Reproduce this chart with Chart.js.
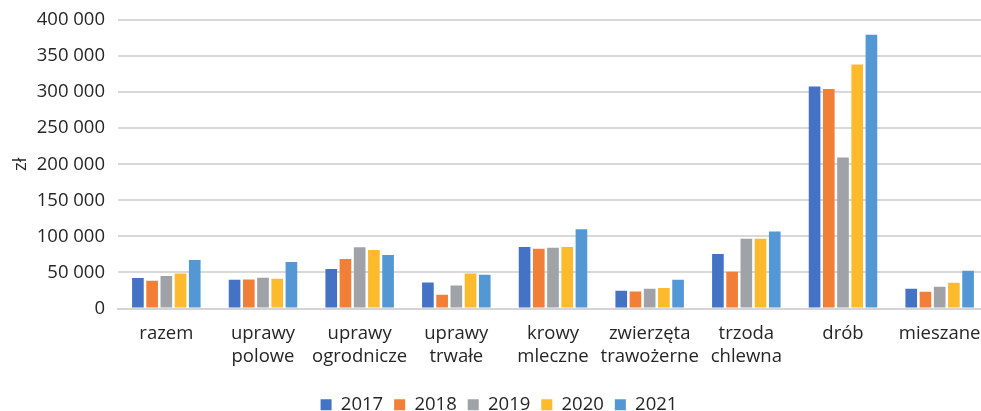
<!DOCTYPE html>
<html>
<head>
<meta charset="utf-8">
<script src="https://cdn.jsdelivr.net/npm/chart.js@4"></script>
<style>
html,body{margin:0;padding:0;background:#fff;overflow:hidden;}
#wrap{width:988px;height:411px;position:relative;}
</style>
</head>
<body>
<div id="wrap"><canvas id="c"></canvas></div>
<script>
const categories = [
  'razem',
  ['uprawy', 'polowe'],
  ['uprawy', 'ogrodnicze'],
  ['uprawy', 'trwałe'],
  ['krowy', 'mleczne'],
  ['zwierzęta', 'trawożerne'],
  ['trzoda', 'chlewna'],
  'drób',
  'mieszane'
];
const years = ['2017', '2018', '2019', '2020', '2021'];
const v2017 = [42200, 39900, 54700, 36100, 85300, 24600, 75500, 307700, 27300];
const v2018 = [38500, 40300, 68600, 19000, 83000, 23600, 51000, 304400, 23200];
const v2019 = [45000, 42600, 84800, 32000, 84300, 27300, 96800, 209500, 30100];
const v2020 = [48700, 41200, 81100, 48700, 85300, 28300, 96800, 338300, 35700];
const v2021 = [67200, 64400, 74100, 46800, 109800, 39900, 106600, 379500, 52400];
const yTicks = [0, 50000, 100000, 150000, 200000, 250000, 300000, 350000, 400000];
const colors = ['#4472C4', '#F27F38', '#9FA2A6', '#FDBA2C', '#5398D4'];
const series = [v2017, v2018, v2019, v2020, v2021];

Chart.defaults.font.family = "'Open Sans', 'Liberation Sans', sans-serif";
Chart.defaults.color = '#262626';

function fmt(n) {
  return String(n).replace(/\B(?=(\d{3})+(?!\d))/g, ' ');
}

new Chart(document.getElementById('c'), {
  type: 'bar',
  data: {
    labels: categories,
    datasets: years.map((y, i) => ({
      label: y,
      data: series[i],
      backgroundColor: colors[i],
      borderWidth: 0,
      categoryPercentage: 0.735,
      barPercentage: 0.82
    }))
  },
  options: {
    responsive: true,
    maintainAspectRatio: false,
    animation: false,
    layout: { padding: { top: 20, right: 0, left: 10, bottom: -13 } },
    plugins: {
      tooltip: { enabled: false },
      legend: {
        position: 'bottom',
        labels: {
          boxWidth: 11,
          boxHeight: 11,
          padding: 11,
          font: { size: 18.5 },
          color: '#262626'
        }
      }
    },
    scales: {
      x: {
        grid: { display: false, drawTicks: false },
        border: { display: true, color: '#D4D4D4', width: 2 },
        ticks: { font: { size: 18.5, lineHeight: 1.25 }, maxRotation: 0, autoSkip: false, padding: 14, color: '#262626' },
        afterFit: (axis) => { axis.height = 76; axis.paddingLeft = 0; axis.paddingRight = 0; }
      },
      y: {
        min: 0,
        max: 400000,
        afterBuildTicks: (axis) => { axis.ticks = yTicks.map(v => ({ value: v })); },
        afterFit: (axis) => { axis.width = 108; axis.paddingTop = 0; axis.paddingBottom = 0; },
        grid: { color: '#D9D9D9', lineWidth: 2, drawTicks: false },
        border: { display: false },
        ticks: { font: { size: 18.5 }, padding: 13, color: '#262626', callback: (v) => fmt(v) },
        title: { display: true, text: 'zł', font: { size: 18.5 }, color: '#262626', padding: { top: 0, bottom: 6 } }
      }
    }
  }
});
</script>
</body>
</html>
